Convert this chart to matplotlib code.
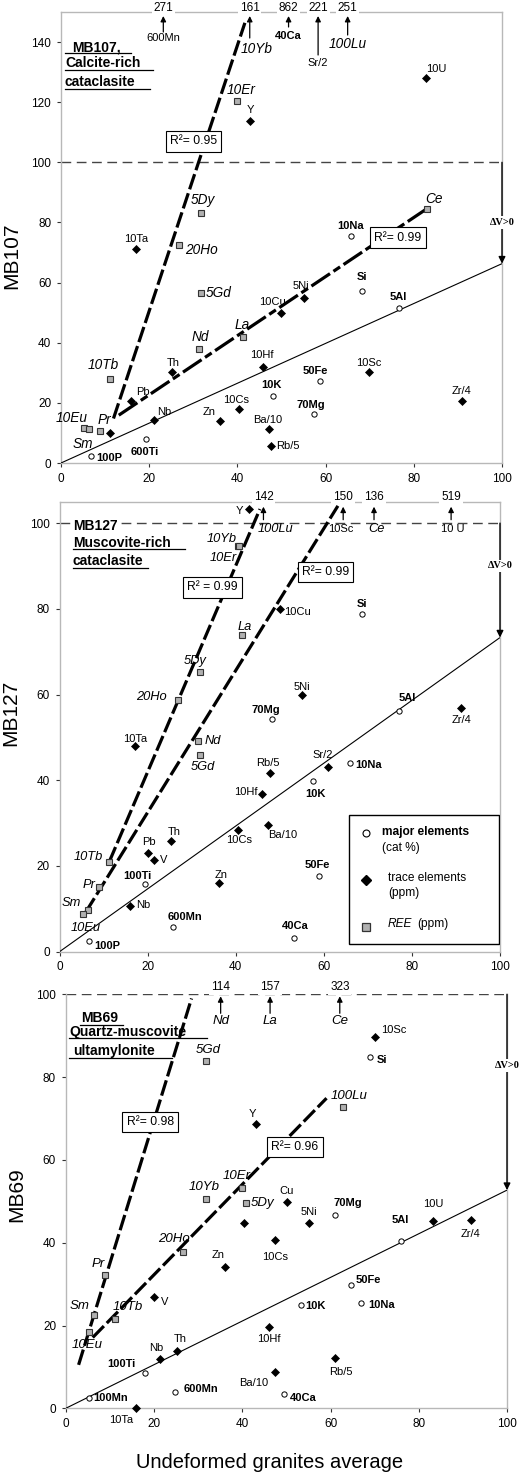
import numpy as np
import matplotlib.pyplot as plt
from matplotlib.patches import Rectangle

plt.rcParams['font.family'] = ['Liberation Sans', 'DejaVu Sans']

# ---------------- MB107 ----------------
mb107_major_names = ['10Na', 'Si', '5Al', '50Fe', '10K', '70Mg', '600Ti', '100P']
mb107_major_x = [65.7, 68.3, 76.6, 58.7, 48.0, 57.4, 19.3, 6.7]
mb107_major_y = [75.5, 57.2, 51.5, 27.2, 22.4, 16.3, 8.0, 2.3]
mb107_trace_names = ['10U', 'Y', '10Ta', '5Ni', '10Cu', '10Hf', 'Th', '10Sc', 'Zr/4', 'Pb',
                     '10Cs', 'Zn', 'Nb', 'Ba/10', 'Rb/5', '']
mb107_trace_x = [82.8, 42.9, 17.0, 55.0, 49.9, 45.8, 25.2, 69.8, 91.0, 15.8, 40.4, 36.0, 21.2, 47.2, 47.6, 11.1]
mb107_trace_y = [128.1, 113.9, 71.2, 55.0, 49.8, 32.0, 30.1, 30.1, 20.5, 20.5, 17.8, 13.9, 14.4, 11.4, 5.8, 10.1]
mb107_ree_names = ['10Er', '5Dy', '20Ho', 'Ce', 'La', '5Gd', 'Nd', '10Tb', '10Eu', 'Sm', 'Pr']
mb107_ree_x = [39.9, 31.7, 26.8, 83.0, 41.2, 31.7, 31.4, 11.2, 5.2, 6.4, 8.8]
mb107_ree_y = [120.4, 83.0, 72.5, 84.6, 41.9, 56.6, 37.9, 27.9, 11.7, 11.2, 10.5]
mb107_off_names = ['600Mn', '10Yb', '40Ca', 'Sr/2', '100Lu']
mb107_off_x = [23.2, 42.8, 51.6, 58.3, 65.0]
mb107_off_values = [271, 161, 862, 221, 251]
mb107_iso_x0 = [11.9, 13.1, 0]
mb107_iso_x1 = [41.7, 83.0, 100]
mb107_iso_slope = [4.416, 0.983, 0.663]
mb107_iso_icpt = [-37.75, 3.02, 0.0]
mb107_iso_r2 = ['R²= 0.95', 'R²= 0.99', None]

# ---------------- MB127 ----------------
mb127_major_names = ['Si', '5Al', '70Mg', '10Na', '10K', '100Ti', '50Fe', '600Mn', '40Ca', '100P']
mb127_major_x = [68.6, 77.1, 48.2, 65.9, 57.6, 19.4, 59.0, 25.8, 53.3, 6.8]
mb127_major_y = [78.8, 56.2, 54.2, 44.0, 39.9, 15.9, 17.7, 5.7, 3.1, 2.6]
mb127_trace_names = ['Y', '10Cu', '5Ni', 'Zr/4', '10Ta', 'Rb/5', 'Sr/2', '10Hf', '10Cs', 'Ba/10',
                     'Th', 'Pb', 'V', 'Zn', 'Nb']
mb127_trace_x = [43.0, 50.1, 55.1, 91.1, 17.1, 47.8, 61.0, 46.0, 40.6, 47.4, 25.3, 20.2, 21.4, 36.1, 16.0]
mb127_trace_y = [103.3, 80.0, 59.9, 56.9, 47.9, 41.8, 43.2, 36.8, 28.3, 29.5, 25.9, 23.0, 21.4, 16.1, 10.7]
mb127_ree_names = ['10Yb', '10Er', 'La', '5Dy', '20Ho', 'Nd', '5Gd', '10Tb', 'Pr', 'Sm', '10Eu']
mb127_ree_x = [40.5, 40.8, 41.4, 32.0, 26.9, 31.5, 31.9, 11.3, 9.0, 6.5, 5.4]
mb127_ree_y = [94.6, 94.6, 73.9, 65.2, 58.7, 49.1, 45.8, 21.0, 15.1, 9.7, 8.7]
mb127_off_names = ['100Lu', '10Sc', 'Ce', '10 U']
mb127_off_x = [46.3, 64.4, 71.4, 88.9]
mb127_off_values = [142, 150, 136, 519]
mb127_iso_x0 = [11.3, 6.0, 0]
mb127_iso_x1 = [45.5, 63.2, 100]
mb127_iso_slope = [2.406, 1.656, 0.733]
mb127_iso_icpt = [-6.19, -0.63, 0.0]
mb127_iso_r2 = ['R² = 0.99', 'R²= 0.99', None]

# ---------------- MB69 ----------------
mb69_major_names = ['Si', '70Mg', '5Al', '50Fe', '10K', '10Na', '100Ti', '600Mn', '40Ca', '100Mn']
mb69_major_x = [68.9, 61.0, 76.0, 64.6, 53.2, 67.0, 18.0, 24.8, 49.5, 5.2]
mb69_major_y = [84.9, 46.8, 40.4, 29.7, 25.0, 25.4, 8.5, 4.0, 3.4, 2.5]
mb69_trace_names = ['10Sc', 'Y', 'Cu', '10U', 'Zr/4', '5Ni', '', '10Cs', 'Zn', 'V', '10Hf',
                    'Th', 'Nb', 'Rb/5', 'Ba/10', '10Ta']
mb69_trace_x = [70.1, 43.1, 50.1, 83.2, 91.8, 55.1, 40.5, 47.5, 36.1, 19.9, 46.1, 25.3, 21.3, 61.0, 47.4, 15.9]
mb69_trace_y = [89.7, 68.7, 49.8, 45.2, 45.6, 44.8, 44.8, 40.7, 34.2, 26.9, 19.7, 13.8, 11.8, 12.2, 8.8, 0.0]
mb69_ree_names = ['5Gd', '100Lu', '10Er', '10Yb', '5Dy', '20Ho', 'Pr', 'Sm', '10Tb', '10Eu']
mb69_ree_x = [31.7, 62.8, 40.0, 31.8, 40.8, 26.6, 8.9, 6.3, 11.2, 5.3]
mb69_ree_y = [83.9, 72.7, 53.1, 50.6, 49.6, 37.7, 32.1, 22.5, 21.5, 18.4]
mb69_off_names = ['Nd', 'La', 'Ce']
mb69_off_x = [35.1, 46.3, 62.1]
mb69_off_values = [114, 157, 323]
mb69_iso_x0 = [2.9, 6.1, 0]
mb69_iso_x1 = [28.5, 59.1, 100]
mb69_iso_slope = [3.457, 1.0906, 0.527]
mb69_iso_icpt = [0.47, 10.45, 0.0]
mb69_iso_r2 = ['R²= 0.98', 'R²= 0.96', None]

# label placement (pixel offsets dx, dy-up, alignment)
C, L, R = 'center', 'left', 'right'
lab1 = {'10U': (10, 9, C), 'Y': (0, 11, C), '10Er': (4, 11, C), '5Dy': (2, 13, C), '10Ta': (0, 10, C),
        '20Ho': (6, -5, L), '10Na': (0, 10, C), 'Ce': (7, 10, C), 'Si': (0, 14, C), '5Al': (-1, 11, C),
        '5Ni': (-3, 12, C), '10Cu': (-9, 11, C), 'La': (0, 12, C), '5Gd': (5, 0, L), 'Nd': (1, 12, C),
        '10Hf': (-1, 12, C), 'Th': (1, 9, C), '10Tb': (-7, 14, C), '50Fe': (-5, 10, C), '10Sc': (0, 9, C),
        '10K': (-1, 11, C), 'Zr/4': (-1, 10, C), 'Pb': (12, 9, C), '70Mg': (-3, 9, C), '10Cs': (-3, 9, C),
        'Zn': (-11, 9, C), 'Nb': (10, 8, C), 'Ba/10': (-1, 9, C), 'Rb/5': (5, 0, L), '600Ti': (-1, -13, C),
        '100P': (6, -2, L), '10Eu': (-12, 10, C), 'Sm': (-6, -15, C), 'Pr': (5, 11, C)}
lab2 = {'Y': (-6, -2, R), '10Yb': (-1, 7, R), '10Er': (-2, -12, R), 'La': (3, 8, C), '10Cu': (4, -3, L),
        'Si': (0, 10, C), '5Dy': (-5, 11, C), '20Ho': (-11, 3, R), '5Ni': (0, 8, C), '5Al': (8, 13, C),
        '70Mg': (-6, 9, C), 'Zr/4': (1, -12, C), '10Ta': (0, 7, C), 'Nd': (6, 0, L), '5Gd': (3, -12, C),
        'Rb/5': (-2, 10, C), 'Sr/2': (-5, 12, C), '10Na': (5, -2, L), '10K': (2, -13, C), '10Hf': (-5, 2, R),
        '10Cs': (1, -10, C), 'Ba/10': (14, -10, C), 'Th': (3, 9, C), 'Pb': (0, 11, C), 'V': (6, 0, L),
        '10Tb': (-6, 5, R), '100Ti': (-8, 8, C), 'Zn': (3, 8, C), '50Fe': (-2, 11, C), 'Pr': (-4, 2, R),
        'Nb': (6, 1, L), 'Sm': (-7, 7, R), '10Eu': (2, -14, C), '600Mn': (12, 10, C), '40Ca': (1, 12, C),
        '100P': (5, -5, L)}
lab3 = {'5Gd': (3, 11, C), '10Sc': (6, 7, L), 'Si': (7, -3, L), '100Lu': (6, 11, C), 'Y': (-4, 10, C),
        '10Er': (-6, 12, C), '10Yb': (-2, 12, C), '5Dy': (5, 0, L), 'Cu': (0, 11, C), '70Mg': (13, 12, C),
        '10U': (0, 17, C), 'Zr/4': (0, -14, C), '5Ni': (0, 11, C), '5Al': (-1, 21, C), '10Cs': (0, -17, C),
        '20Ho': (-9, 13, C), 'Zn': (-7, 12, C), 'Pr': (-7, 11, C), '50Fe': (5, 5, L), 'V': (7, -5, L),
        '10K': (5, -1, L), '10Na': (7, -2, L), 'Sm': (-4, 9, R), '10Tb': (13, 12, C), '10Hf': (0, -12, C),
        '10Eu': (-2, -13, C), 'Th': (3, 12, C), 'Nb': (-4, 11, C), 'Rb/5': (6, -14, C), '100Ti': (-10, 9, R),
        'Ba/10': (-21, -11, C), '600Mn': (8, 3, L), '40Ca': (6, -4, L), '100Mn': (5, 0, L), '10Ta': (-15, -12, C)}

PX = 0.72  # pixel -> point at dpi 100
fig = plt.figure(figsize=(5.22, 14.75), dpi=100)
W, H = 522, 1475


def label_points(ax, names, xs, ys, offs, **kw):
    for n, x, y in zip(names, xs, ys):
        if not n:
            continue
        dx, dy, ha = offs.get(n, (0, 10, C))
        ax.annotate(n, (x, y), xytext=(dx * PX, dy * PX), textcoords='offset points',
                    ha=ha, va='center', zorder=6, **kw)


def panel(rect, ylim, yticks, ylabel, ylab_pos, major, trace, ree, off, off_fmt,
          iso, iso_styles, r2_pos, labs, dv_y, title, title_lines, ree_size=9.8):
    ax = fig.add_axes(rect)
    ax.set_xlim(0, 100)
    ax.set_ylim(*ylim)
    ax.set_xticks([0, 20, 40, 60, 80, 100])
    ax.set_yticks(yticks)
    for s in ax.spines.values():
        s.set_color('#b8b8b8')
        s.set_linewidth(1.0)
    ax.tick_params(direction='out', length=3, width=0.8, labelsize=8.5, pad=4, color='#333333')
    ax.set_ylabel(ylabel, fontsize=15)
    ax.yaxis.set_label_coords(-0.09, ylab_pos)

    # horizontal 100 line
    ax.axhline(100, color='#444444', lw=1.0, dashes=(7, 4), zorder=2)

    # isocons
    for x0, x1, sl, ic, r2, st in zip(*iso, iso_styles):
        xx = np.array([x0, x1])
        if st == 'solid':
            ax.plot(xx, sl * xx + ic, color='k', lw=0.8, zorder=3, solid_capstyle='butt')
        else:
            ax.plot(xx, sl * xx + ic, color='k', lw=2.3, linestyle=st, zorder=3,
                    dash_capstyle='butt')
    for txt, pos in zip(iso[4], r2_pos):
        if txt:
            ax.text(pos[0], pos[1], txt, fontsize=8.7, ha='center', va='center', zorder=7,
                    bbox=dict(boxstyle='square,pad=0.35', fc='white', ec='k', lw=0.8))

    # delta V arrow
    y_end = iso[2][-1] * 100 + iso[3][-1]
    ax.annotate('', xy=(100, y_end), xytext=(100, 100), annotation_clip=False,
                arrowprops=dict(arrowstyle='-|>', color='k', lw=1.0, mutation_scale=10,
                                shrinkA=0, shrinkB=0), zorder=4)
    ax.text(100, dv_y, 'ΔV>0', ha='center', va='center', fontsize=7.5, fontweight='bold',
            family=['Liberation Serif', 'DejaVu Serif'], zorder=7,
            bbox=dict(boxstyle='square,pad=0.15', fc='white', ec='none'))

    # points
    ax.plot(major[1], major[2], 'o', ms=3.8, mfc='white', mec='k', mew=0.7, ls='none',
            zorder=5, clip_on=False)
    ax.plot(trace[1], trace[2], 'D', ms=3.8, mfc='k', mec='k', mew=0.5, ls='none',
            zorder=5, clip_on=False)
    ax.plot(ree[1], ree[2], 's', ms=4.2, mfc='#b0b0b0', mec='#333333', mew=0.8, ls='none',
            zorder=5, clip_on=False)
    label_points(ax, *major, labs, fontsize=8, fontweight='bold')
    label_points(ax, *trace, labs, fontsize=8)
    label_points(ax, *ree, labs, fontsize=ree_size, fontstyle='italic')

    # off-scale values
    hpx = ax.bbox.height
    tr = ax.get_xaxis_transform()
    start, tip, lab_below, num_above, styles, dxs = off_fmt
    n_off = len(off[0])
    start = np.broadcast_to(start, n_off)
    lab_below = np.broadcast_to(lab_below, n_off)
    for n, x, v, sty, dx, st, lb in zip(off[0], off[1], off[2], styles, dxs, start, lab_below):
        ax.annotate('', xy=(x, 1 - tip / hpx), xycoords=tr, xytext=(x, 1 - st / hpx),
                    textcoords=tr, annotation_clip=False,
                    arrowprops=dict(arrowstyle='-|>', color='k', lw=0.9, mutation_scale=8,
                                    shrinkA=0, shrinkB=0))
        ax.text(x, 1 + num_above / hpx, str(v), transform=tr, ha='center', va='center',
                fontsize=8.5, zorder=8, clip_on=False,
                bbox=dict(boxstyle='square,pad=0.15', fc='white', ec='none'))
        kw = {'fontsize': 8}
        if sty == 'bold':
            kw['fontweight'] = 'bold'
        elif sty == 'italic':
            kw = {'fontsize': ree_size, 'fontstyle': 'italic'}
        ax.annotate(n, (x, 1 - lb / hpx), xycoords=tr, xytext=(dx * PX, 0),
                    textcoords='offset points', ha='center', va='center', zorder=8, **kw)

    # title block
    for (txt, tx, ty, bg), (ux0, ux1, uy) in zip(title, title_lines):
        t = ax.text(tx, ty, txt, fontsize=10, fontweight='bold', ha='left', va='center', zorder=7)
        if bg:
            t.set_bbox(dict(boxstyle='square,pad=0.1', fc='white', ec='none'))
        if ux1 is not None:
            ax.plot([ux0, ux1], [uy, uy], color='k', lw=0.9, zorder=7)
    return ax


# ---------- panel MB107 ----------
ax1 = panel([61 / W, (H - 463) / H, 441 / W, 451 / H], (0, 150), range(0, 141, 20), 'MB107', 0.46,
            (mb107_major_names, mb107_major_x, mb107_major_y),
            (mb107_trace_names, mb107_trace_x, mb107_trace_y),
            (mb107_ree_names, mb107_ree_x, mb107_ree_y),
            (mb107_off_names, mb107_off_x, mb107_off_values),
            ([20, 26, 15, 43, 23], 4, [26, 37, 24, 51, 32], 4,
             ['normal', 'italic', 'bold', 'normal', 'italic'], [0, 7, 0, 0, 0]),
            (mb107_iso_x0, mb107_iso_x1, mb107_iso_slope, mb107_iso_icpt, mb107_iso_r2),
            [(0, (5, 1.3)), (0, (7, 1.3, 2.5, 1.3)), 'solid'],
            [(30, 107), (76.4, 75)], lab1, 80,
            [('MB107,', 2.5, 138.3, False), ('Calcite-rich', 0.9, 133.0, False),
             ('cataclasite', 0.9, 126.7, False)],
            [(0.9, 15.9, 136.2), (0.9, 20.9, 130.7), (0.9, 20.2, 124.4)])

# ---------- panel MB127 ----------
ax2 = panel([59.5 / W, (H - 951.7) / H, 440.5 / W, 450 / H], (0, 105), range(0, 101, 20), 'MB127', 0.53,
            (mb127_major_names, mb127_major_x, mb127_major_y),
            (mb127_trace_names, mb127_trace_x, mb127_trace_y),
            (mb127_ree_names, mb127_ree_x, mb127_ree_y),
            (mb127_off_names, mb127_off_x, mb127_off_values),
            (18, 5, 27, 5, ['italic', 'normal', 'italic', 'normal'], [12, -2, 2, 2]),
            (mb127_iso_x0, mb127_iso_x1, mb127_iso_slope, mb127_iso_icpt, mb127_iso_r2),
            [(0, (5, 1.3)), (0, (5, 1.3)), 'solid'],
            [(34.8, 85.0), (60.4, 88.6)], lab2, 90,
            [('MB127', 3.0, 99.3, True), ('Muscovite-rich', 3.0, 95.3, False),
             ('cataclasite', 3.0, 91.1, False)],
            [(0, None, 0), (3.0, 28.6, 94.0), (3.0, 20.0, 89.5)], ree_size=9.3)

# legend box
ax2.add_patch(Rectangle((65.8, 1.8), 34.0, 30.2, fc='white', ec='k', lw=1.0, zorder=8))
ax2.plot([69.6], [27.7], 'o', ms=5, mfc='white', mec='k', mew=0.8, zorder=9)
ax2.plot([69.6], [16.7], 'D', ms=5, mfc='k', mec='k', zorder=9)
ax2.plot([69.6], [5.8], 's', ms=6, mfc='#b0b0b0', mec='#333333', mew=0.9, zorder=9)
ax2.text(73.1, 27.9, 'major elements', fontsize=8.6, fontweight='bold', va='center', zorder=9)
ax2.text(73.1, 24.2, '(cat %)', fontsize=8.6, va='center', zorder=9)
ax2.text(74.6, 17.1, 'trace elements', fontsize=8.6, va='center', zorder=9)
ax2.text(74.6, 13.6, '(ppm)', fontsize=8.6, va='center', zorder=9)
ax2.text(74.6, 6.4, 'REE', fontsize=8.6, fontstyle='italic', va='center', zorder=9)
ax2.text(81.2, 6.4, '(ppm)', fontsize=8.6, va='center', zorder=9)

# ---------- panel MB69 ----------
ax3 = panel([65.8 / W, (H - 1408.3) / H, 441.2 / W, 414 / H], (0, 100), range(0, 101, 20), 'MB69', 0.515,
            (mb69_major_names, mb69_major_x, mb69_major_y),
            (mb69_trace_names, mb69_trace_x, mb69_trace_y),
            (mb69_ree_names, mb69_ree_x, mb69_ree_y),
            (mb69_off_names, mb69_off_x, mb69_off_values),
            (19, 2, 27, 7, ['italic', 'italic', 'italic'], [0, 0, 0]),
            (mb69_iso_x0, mb69_iso_x1, mb69_iso_slope, mb69_iso_icpt, mb69_iso_r2),
            [(0, (5, 1.3)), (0, (5, 1.3)), 'solid'],
            [(19.1, 69.2), (51.9, 63.1)], lab3, 82.8,
            [('MB69', 3.4, 94.2, False), ('Quartz-muscovite', 0.8, 90.8, False),
             ('ultamylonite', 1.7, 86.3, False)],
            [(3.2, 13.0, 92.6), (0.8, 32.1, 89.4), (0.8, 24.0, 84.7)], ree_size=9.5)
ax3.spines['top'].set_visible(False)

fig.text(0.517, 1 - 1463 / H, 'Undeformed granites average', ha='center', va='center', fontsize=14.5)

plt.savefig('out.png', dpi=100)
